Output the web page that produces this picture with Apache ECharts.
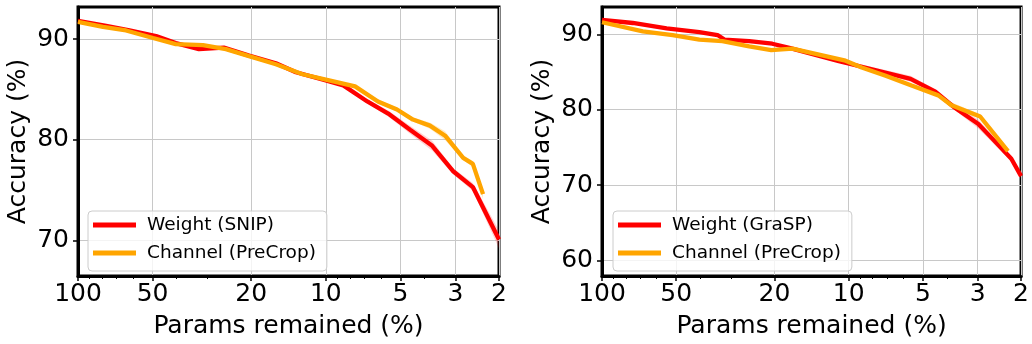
<!DOCTYPE html>
<html><head><meta charset="utf-8">
<script src="https://cdn.jsdelivr.net/npm/echarts@6/dist/echarts.min.js"></script>
<style>html,body{margin:0;padding:0;background:#fff}#c{width:1032px;height:344px}</style>
</head><body><div id="c"></div>
<script>
// ---- tick labels ----
const xTicks = [100, 50, 20, 10, 5, 3, 2];
const xMinorTicks = [90, 80, 70, 60, 40, 30, 9, 8, 7, 6, 4];
const leftYTicks = [70, 80, 90];
const rightYTicks = [60, 70, 80, 90];

// ---- left panel: SNIP vs PreCrop ----
const leftRedP   = [100, 77, 62, 48.4, 40.3, 32.5, 25.8, 20.4, 15.9, 13.2, 10, 8.5, 6.8, 5.6, 4.57, 3.72, 3.07, 2.55, 2];
const leftRedAcc = [91.8, 91.3, 90.85, 90.3, 89.6, 89.0, 89.15, 88.35, 87.6, 86.7, 85.9, 85.4, 83.8, 82.6, 81.0, 79.4, 76.9, 75.3, 70.1];
const leftRedStd = [0.1, 0.1, 0.1, 0.1, 0.1, 0.15, 0.1, 0.1, 0.1, 0.1, 0.1, 0.15, 0.2, 0.3, 0.4, 0.5, 0.3, 0.4, 0.9];

const leftOrgP   = [100, 79.3, 64, 49.8, 40.3, 31.3, 25.3, 20.4, 15.9, 12.4, 9.7, 7.62, 6.16, 5.16, 4.45, 3.8, 3.3, 2.79, 2.55, 2.32];
const leftOrgAcc = [91.7, 91.2, 90.85, 90.1, 89.5, 89.4, 89.0, 88.3, 87.5, 86.5, 85.9, 85.3, 83.8, 83.0, 82.0, 81.4, 80.4, 78.2, 77.6, 74.6];
const leftOrgStd = [0.1, 0.1, 0.1, 0.1, 0.1, 0.1, 0.1, 0.1, 0.1, 0.1, 0.1, 0.15, 0.2, 0.2, 0.2, 0.3, 0.45, 0.2, 0.3, 0.5];

// ---- right panel: GraSP vs PreCrop ----
const rightRedP   = [100, 75, 54.7, 40.3, 34, 31.9, 25.3, 20.4, 17.4, 10.96, 8.85, 5.61, 4.45, 3.76, 2.98, 2.64, 2.19, 2];
const rightRedAcc = [91.9, 91.5, 90.8, 90.3, 89.9, 89.3, 89.1, 88.75, 88.2, 86.45, 85.7, 84.1, 82.4, 80.4, 78.1, 76.3, 73.5, 71.2];
const rightRedStd = [0.1, 0.1, 0.1, 0.1, 0.1, 0.1, 0.1, 0.1, 0.15, 0.2, 0.3, 0.4, 0.3, 0.3, 0.6, 0.5, 0.4, 0.4];

const rightOrgP   = [100, 68.3, 51.7, 40.3, 32.5, 25.3, 20.6, 16.9, 10.3, 8.85, 7.08, 5.56, 4.33, 3.83, 2.93, 2.26];
const rightOrgAcc = [91.6, 90.4, 89.9, 89.3, 89.1, 88.4, 87.9, 88.1, 86.5, 85.6, 84.5, 83.2, 81.9, 80.6, 79.1, 74.5];
const rightOrgStd = [0.1, 0.1, 0.1, 0.1, 0.1, 0.1, 0.1, 0.1, 0.1, 0.15, 0.2, 0.2, 0.2, 0.4, 0.3, 0.3];

const FONT = 'DejaVu Sans';
const RED = '#ff0000', ORANGE = '#ffa500';
const FS = 25;

function pairs(p, v) { return p.map((x, i) => [x, v[i]]); }

function makeX(gridIndex) {
  return {
    type: 'log', gridIndex, min: 2, max: 100, inverse: true, position: 'bottom',
    name: 'Params remained (%)', nameLocation: 'middle', nameGap: 38,
    nameTextStyle: { fontFamily: FONT, fontSize: FS, color: '#000' },
    axisLine: { show: true, lineStyle: { color: '#000', width: 3 } },
    axisTick: { show: true, customValues: xTicks, length: 5, lineStyle: { color: '#000', width: 1.5 } },
    axisLabel: { customValues: xTicks, fontFamily: FONT, fontSize: FS, color: '#000', margin: 6,
      formatter: v => String(Math.round(v)) },
    splitLine: { show: true, lineStyle: { color: '#c8c8c8', width: 1 } },
    minorTick: { show: false }, minorSplitLine: { show: false }
  };
}
function makeXMinor(gridIndex) {
  return {
    type: 'log', gridIndex, min: 2, max: 100, inverse: true, position: 'bottom',
    axisLine: { show: false },
    axisTick: { show: true, customValues: xMinorTicks, length: 3, lineStyle: { color: '#000', width: 1 } },
    axisLabel: { show: false },
    splitLine: { show: false }
  };
}
function makeY(gridIndex, min, max, ticks) {
  return {
    type: 'value', gridIndex, min, max,
    name: 'Accuracy (%)', nameLocation: 'middle', nameGap: 47,
    nameTextStyle: { fontFamily: FONT, fontSize: FS, color: '#000' },
    axisLine: { show: true, lineStyle: { color: '#000', width: 3 } },
    axisTick: { show: true, customValues: ticks, length: 5, lineStyle: { color: '#000', width: 1.5 } },
    axisLabel: { customValues: ticks, fontFamily: FONT, fontSize: FS, color: '#000', margin: 9 },
    splitLine: { show: true, lineStyle: { color: '#c8c8c8', width: 1 } }
  };
}
// shaded mean ± std band, drawn as one polygon through the axes' coordinates
function bandSeries(id, xi, yi, p, acc, std, color) {
  const data = p.map((x, i) => [x, acc[i] - std[i], acc[i] + std[i]]);
  return {
    name: id, type: 'custom', xAxisIndex: xi, yAxisIndex: yi, data, silent: true, z: 1,
    encode: { x: 0, y: [1, 2] },
    renderItem: function (params, api) {
      if (params.dataIndex !== 0) return null;
      const up = data.map(d => api.coord([d[0], d[2]]));
      const lo = data.map(d => api.coord([d[0], d[1]])).reverse();
      return { type: 'polygon', shape: { points: up.concat(lo) }, style: { fill: color, stroke: null } };
    }
  };
}
function lineSeries(name, xi, yi, p, acc, color, z) {
  return { name, type: 'line', xAxisIndex: xi, yAxisIndex: yi, data: pairs(p, acc),
    symbol: 'none', color, lineStyle: { color, width: 4.3 }, z };
}
function legendAt(left, names) {
  return {
    left, top: 211, orient: 'vertical', data: names.map(n => ({ name: n, icon: 'rect' })),
    itemWidth: 43, itemHeight: 5, itemGap: 6,
    padding: [3, 11, 7, 5],
    backgroundColor: 'rgba(255,255,255,0.8)', borderColor: '#cccccc', borderWidth: 1, borderRadius: 4,
    textStyle: { fontFamily: FONT, fontSize: 18.5, color: '#000', lineHeight: 22, padding: [0, 0, 0, 6] },
    selectedMode: false
  };
}

const chart = echarts.init(document.getElementById('c'), null, { renderer: 'canvas' });
chart.setOption({
  animation: false,
  backgroundColor: '#fff',
  grid: [
    { left: 78, right: 533, top: 7, bottom: 64, show: true, borderColor: '#000', borderWidth: 3, containLabel: false },
    { left: 602, right: 9, top: 7, bottom: 64, show: true, borderColor: '#000', borderWidth: 3, containLabel: false }
  ],
  xAxis: [makeX(0), makeXMinor(0), makeX(1), makeXMinor(1)],
  yAxis: [makeY(0, 66.47, 93.18, leftYTicks), makeY(1, 57.95, 93.62, rightYTicks)],
  legend: [
    legendAt(88, ['Weight (SNIP)', 'Channel (PreCrop)']),
    legendAt(613, ['Weight (GraSP)', 'Channel (PreCrop)'])
  ],
  series: [
    bandSeries('bLR', 0, 0, leftRedP, leftRedAcc, leftRedStd, 'rgba(255,0,0,0.18)'),
    bandSeries('bLO', 0, 0, leftOrgP, leftOrgAcc, leftOrgStd, 'rgba(255,165,0,0.22)'),
    bandSeries('bRR', 2, 1, rightRedP, rightRedAcc, rightRedStd, 'rgba(255,0,0,0.18)'),
    bandSeries('bRO', 2, 1, rightOrgP, rightOrgAcc, rightOrgStd, 'rgba(255,165,0,0.22)'),
    lineSeries('Weight (SNIP)', 0, 0, leftRedP, leftRedAcc, RED, 3),
    lineSeries('Channel (PreCrop)', 0, 0, leftOrgP, leftOrgAcc, ORANGE, 4),
    lineSeries('Weight (GraSP)', 2, 1, rightRedP, rightRedAcc, RED, 3),
    lineSeries('Channel (PreCrop)', 2, 1, rightOrgP, rightOrgAcc, ORANGE, 4)
  ]
});
</script>
</body></html>
